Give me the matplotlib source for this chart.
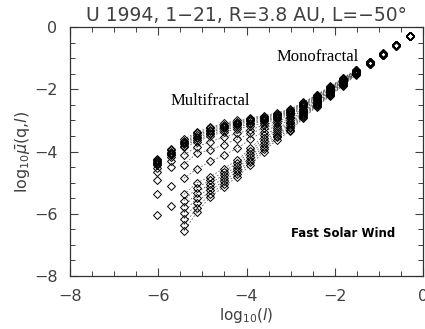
import numpy as np
import matplotlib
matplotlib.use('Agg')
import matplotlib.pyplot as plt
from matplotlib.ticker import MultipleLocator

# log10(l) of each scale (columns of diamonds)
log_l = [-6.02, -5.72, -5.42, -5.12, -4.82, -4.52, -4.21, -3.91, -3.61, -3.31,
         -3.01, -2.71, -2.41, -2.11, -1.81, -1.51, -1.20, -0.90, -0.60, -0.30]

nan = np.nan
# log10 mu(q,l) for each scale, one value per q (upper 7, middle 3, lower 7)
log_mu = [
    [-4.24, -4.27, -4.30, -4.33, -4.36, -4.39, -4.43, -4.52, -4.65, -4.92, -5.35, -6.05, nan, nan, nan, nan, nan],
    [-3.92, -3.96, -4.00, -4.04, -4.08, -4.12, -4.17, -4.30, -4.49, -5.11, -5.76, nan, nan, nan, nan, nan, nan],
    [-3.61, -3.65, -3.69, -3.73, -3.77, -3.81, -3.86, -4.10, -4.42, -4.86, -5.38, -5.58, -5.78, -5.97, -6.17, -6.36, -6.56],
    [-3.37, -3.42, -3.47, -3.52, -3.57, -3.63, -3.69, -3.85, -4.05, -4.56, -5.00, -5.16, -5.32, -5.48, -5.64, -5.80, -5.94],
    [-3.22, -3.26, -3.30, -3.34, -3.39, -3.44, -3.50, -3.68, -3.95, -4.32, -4.81, -4.92, -5.03, -5.14, -5.25, -5.36, -5.46],
    [-3.10, -3.14, -3.18, -3.22, -3.26, -3.31, -3.37, -3.55, -3.78, -4.12, -4.55, -4.65, -4.75, -4.85, -4.95, -5.05, -5.14],
    [-3.00, -3.04, -3.08, -3.12, -3.16, -3.21, -3.27, -3.42, -3.60, -3.90, -4.28, -4.37, -4.46, -4.55, -4.64, -4.73, -4.81],
    [-2.92, -2.95, -2.99, -3.03, -3.07, -3.12, -3.18, -3.30, -3.42, -3.60, -3.90, -3.99, -4.08, -4.17, -4.26, -4.35, -4.44],
    [-2.85, -2.88, -2.91, -2.95, -2.99, -3.03, -3.08, -3.16, -3.25, -3.36, -3.48, -3.57, -3.66, -3.75, -3.84, -3.92, -4.00],
    [-2.76, -2.79, -2.82, -2.85, -2.89, -2.93, -2.97, -3.03, -3.10, -3.17, -3.25, -3.31, -3.37, -3.43, -3.49, -3.55, -3.62],
    [-2.64, -2.66, -2.69, -2.72, -2.75, -2.79, -2.83, -2.88, -2.93, -2.99, -3.05, -3.10, -3.15, -3.20, -3.25, -3.30, -3.35],
    [-2.42, -2.44, -2.46, -2.49, -2.52, -2.55, -2.58, -2.62, -2.66, -2.70, -2.74, -2.77, -2.80, -2.83, -2.86, -2.89, -2.92],
    [-2.18, -2.20, -2.22, -2.24, -2.26, -2.28, -2.31, -2.34, -2.37, -2.40, -2.43, -2.45, -2.47, -2.49, -2.51, -2.54, -2.56],
    [-1.91, -1.93, -1.94, -1.96, -1.98, -2.00, -2.02, -2.04, -2.06, -2.08, -2.10, -2.12, -2.14, -2.16, -2.18, -2.20, -2.22],
    [-1.64, -1.65, -1.66, -1.68, -1.69, -1.71, -1.72, -1.74, -1.75, -1.77, -1.78, -1.80, -1.81, -1.83, -1.85, -1.87, -1.89],
    [-1.37, -1.38, -1.39, -1.40, -1.41, -1.42, -1.43, -1.44, -1.45, -1.46, -1.47, -1.48, -1.49, -1.50, -1.51, -1.52, -1.53],
    [-1.12, -1.12, -1.13, -1.13, -1.14, -1.14, -1.15, -1.15, -1.16, -1.16, -1.17, -1.17, -1.18, -1.18, -1.19, -1.19, -1.20],
    [-0.85, -0.85, -0.86, -0.86, -0.86, -0.87, -0.87, -0.87, -0.88, -0.88, -0.88, -0.89, -0.89, -0.89, -0.90, -0.90, -0.91],
    [-0.57, -0.57, -0.57, -0.58, -0.58, -0.58, -0.58, -0.58, -0.58, -0.59, -0.59, -0.59, -0.59, -0.59, -0.60, -0.60, -0.60],
    [-0.29, -0.29, -0.29, -0.29, -0.29, -0.29, -0.29, -0.29, -0.29, -0.29, -0.29, -0.29, -0.29, -0.29, -0.29, -0.29, -0.29],
]

x = np.array(log_l)
y = np.array(log_mu)  # shape: (scales, q)

fig = plt.figure(figsize=(4.25, 3.29), dpi=100)
ax = fig.add_axes([0.165, 0.161, 0.830, 0.757])

# dashed fits joining each q across the multifractal scales
for j in range(y.shape[1]):
    ax.plot(x[2:16], y[2:16, j], color='0.3', lw=0.5, ls=(0, (2.5, 2.5)), zorder=1)

# open diamonds
for j in range(y.shape[1]):
    ax.plot(x, y[:, j], ls='none', marker='D', ms=3.7, mfc='none', mec='black', mew=0.7, zorder=2)

ax.set_xlim(-8, 0)
ax.set_ylim(-8, 0)
ax.xaxis.set_major_locator(MultipleLocator(2))
ax.xaxis.set_minor_locator(MultipleLocator(0.5))
ax.yaxis.set_major_locator(MultipleLocator(2))
ax.yaxis.set_minor_locator(MultipleLocator(0.5))
ax.tick_params(which='both', direction='in', top=True, right=True, color='0.25')
ax.tick_params(which='major', length=6, width=0.8, labelsize=11.5, pad=9, labelcolor='0.25')
ax.tick_params(which='minor', length=3.5, width=0.7)
for s in ax.spines.values():
    s.set_color('0.2')
    s.set_linewidth(0.9)

ax.set_title('U 1994, 1\u221221, R=3.8 AU, L=\u221250\u00b0', fontsize=13.5, color='0.25', pad=4)
ax.set_xlabel(r'log$_{10}$($l$)', fontsize=11, color='0.25', labelpad=2)
ax.set_ylabel(r'log$_{10}\bar{\mu}$(q,$l$)', fontsize=11.5, color='0.25', labelpad=1)

ax.text(-4.83, -2.38, 'Multifractal', family='Liberation Serif', fontsize=12, ha='center', va='center')
ax.text(-2.38, -0.98, 'Monofractal', family='Liberation Serif', fontsize=12, ha='center', va='center')
ax.text(-1.80, -6.62, 'Fast Solar Wind', fontsize=8.5, fontweight='bold', ha='center', va='center')

fig.savefig('out.png', dpi=100)
